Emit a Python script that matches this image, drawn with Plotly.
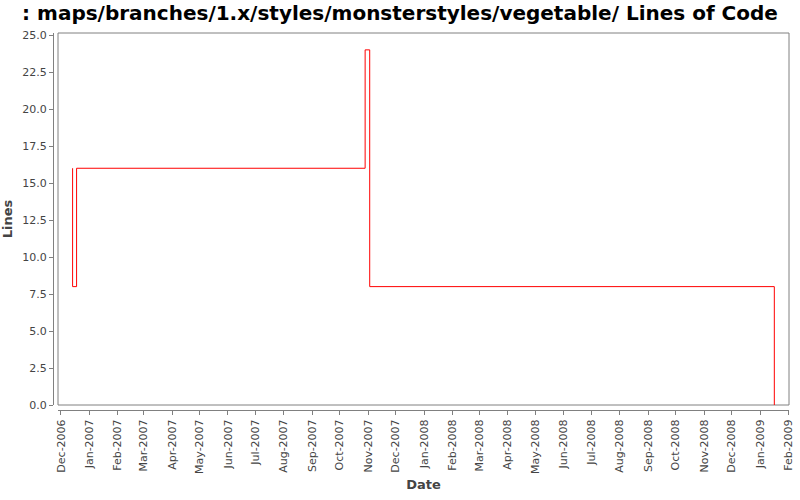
import plotly.graph_objects as go

# Data
dates = ["2006-12-13 14:00", "2006-12-13 16:00", "2006-12-18 00:00",
         "2007-10-28 12:00", "2007-11-02 12:00", "2009-01-16 12:00"]
lines = [16, 8, 16, 24, 8, 0]

title_text = ": maps/branches/1.x/styles/monsterstyles/vegetable/ Lines of Code"

W, H = 800, 500
ml, mr, mt, mb = 53, 11, 33, 90
pw = W - ml - mr
ph = H - mt - mb
xd0 = 5 / pw
yd0 = 5 / ph

fig = go.Figure()
fig.add_trace(go.Scatter(
    x=dates, y=lines, mode="lines",
    line=dict(color="#ff0000", width=1, shape="hv"),
    showlegend=False, hoverinfo="x+y",
))

axis_font = dict(family="DejaVu Sans", size=11, color="#444444")
title_font = dict(family="DejaVu Sans", size=13, color="#444444")

fig.update_layout(
    width=W, height=H,
    margin=dict(l=ml, r=mr, t=mt, b=mb, autoexpand=False),
    paper_bgcolor="white", plot_bgcolor="white",
    title=dict(text="<b>" + title_text + "</b>", x=0.5, xanchor="center",
               y=1 - 13 / H, yanchor="middle",
               font=dict(family="DejaVu Sans", size=20, color="black")),
    xaxis=dict(
        domain=[xd0, 1], anchor="free", position=0, automargin=False,
        type="date", range=["2006-11-27 18:00", "2009-02-01 12:00"],
        tick0="2006-12-01", dtick="M1", tickformat="%b-%Y",
        tickangle=-90, tickfont=axis_font,
        ticks="outside", ticklen=4, tickcolor="#808080",
        showline=True, linecolor="#808080", linewidth=1,
        showgrid=False, zeroline=False,
        title=dict(text="<b>Date</b>", font=title_font, standoff=6),
    ),
    yaxis=dict(
        domain=[yd0, 1], anchor="free", position=0, automargin=False,
        range=[0, 25.14], tick0=0, dtick=2.5, tickformat=".1f",
        tickfont=axis_font,
        ticks="outside", ticklen=4, tickcolor="#808080",
        showline=True, linecolor="#808080", linewidth=1,
        showgrid=False, zeroline=False,
        title=dict(text="<b>Lines</b>", font=title_font, standoff=6),
    ),
    shapes=[dict(type="rect", xref="paper", yref="paper",
                 x0=xd0, x1=1, y0=yd0, y1=1,
                 line=dict(color="#808080", width=1), layer="below")],
)

fig.write_html("out.html", config={"displayModeBar": False},
               post_script="document.body.style.margin='0';")
